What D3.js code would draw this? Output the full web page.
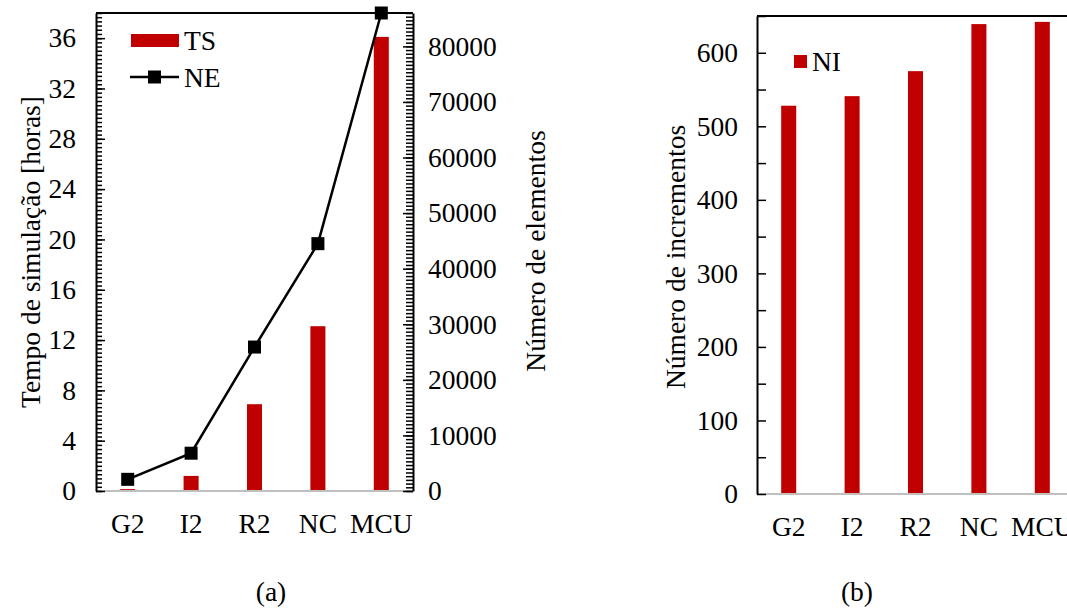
<!DOCTYPE html>
<html>
<head>
<meta charset="utf-8">
<script src="https://cdn.jsdelivr.net/npm/d3@7"></script>
<style>
  html, body { margin: 0; padding: 0; background: #fff; }
  svg { display: block; }
  text { font-family: "Liberation Serif", "Times New Roman", serif; fill: #000; }
</style>
</head>
<body>
<svg id="chart" width="1067" height="609"></svg>
<script>
// ---- data ----
const categories = ["G2", "I2", "R2", "NC", "MCU"];
const tsHours = [0.15, 1.2, 6.9, 13.1, 36.1];          // Tempo de simulação [horas]
const neElements = [2100, 6800, 25900, 44500, 86000];  // Número de elementos
const niIncrements = [528, 541, 575, 639, 642];        // Número de incrementos
const tsTicks = [0, 4, 8, 12, 16, 20, 24, 28, 32, 36];
const neTicks = [0, 10000, 20000, 30000, 40000, 50000, 60000, 70000, 80000];
const niTicks = [0, 100, 200, 300, 400, 500, 600];

const RED = "#c00000";
const FS = 27.5;
const svg = d3.select("#chart");

// ===================== chart (a) =====================
const A = { left: 96, right: 413, top: 13, bottom: 491 };
const xA = d3.scaleBand().domain(categories).range([A.left, A.right])
  .paddingInner(0.763).paddingOuter(0.3815);
const yTS = d3.scaleLinear().domain([0, 38]).range([A.bottom, A.top]);
const yNE = d3.scaleLinear().domain([0, 86000]).range([A.bottom, A.top]);

const gA = svg.append("g");

// bars
gA.selectAll("rect.ts").data(categories).join("rect")
  .attr("class", "ts")
  .attr("x", d => xA(d))
  .attr("width", xA.bandwidth())
  .attr("y", (d, i) => yTS(tsHours[i]))
  .attr("height", (d, i) => yTS(0) - yTS(tsHours[i]))
  .attr("fill", RED);

// baseline
gA.append("line").attr("x1", A.left).attr("x2", A.right)
  .attr("y1", A.bottom).attr("y2", A.bottom)
  .attr("stroke", "#bfbfbf").attr("stroke-width", 2);
// top frame
gA.append("line").attr("x1", A.left).attr("x2", A.right)
  .attr("y1", A.top).attr("y2", A.top)
  .attr("stroke", "#000").attr("stroke-width", 2);

// left minor ticks
const tsMinor = d3.range(0, 38.001, 4 / 12);
gA.append("g").attr("transform", `translate(${A.left},0)`)
  .call(d3.axisLeft(yTS).tickValues(tsMinor).tickSize(-6).tickFormat("").tickSizeOuter(0))
  .call(g => g.selectAll("line").attr("stroke", "#000").attr("stroke-width", 1.5))
  .call(g => g.select(".domain").remove());
// left major axis
gA.append("g").attr("transform", `translate(${A.left},0)`)
  .call(d3.axisLeft(yTS).tickValues(tsTicks).tickSize(-9).tickPadding(20).tickSizeOuter(0))
  .call(g => g.select(".domain").attr("stroke", "#000").attr("stroke-width", 2))
  .call(g => g.selectAll("line").attr("stroke", "#000").attr("stroke-width", 1.5))
  .call(g => g.selectAll("text").attr("font-size", FS).attr("font-family", "Liberation Serif"));

// right minor ticks
const neMinor = d3.range(0, 86000.1, 10000 / 15);
gA.append("g").attr("transform", `translate(${A.right},0)`)
  .call(d3.axisRight(yNE).tickValues(neMinor).tickSize(-7).tickFormat("").tickSizeOuter(0))
  .call(g => g.selectAll("line").attr("stroke", "#000").attr("stroke-width", 1.5))
  .call(g => g.select(".domain").remove());
// right major axis
gA.append("g").attr("transform", `translate(${A.right},0)`)
  .call(d3.axisRight(yNE).tickValues(neTicks).tickSize(-10).tickPadding(15)
    .tickFormat(d3.format("d")).tickSizeOuter(0))
  .call(g => g.select(".domain").attr("stroke", "#000").attr("stroke-width", 2))
  .call(g => g.selectAll("line").attr("stroke", "#000").attr("stroke-width", 1.5))
  .call(g => g.selectAll("text").attr("font-size", FS).attr("font-family", "Liberation Serif"));

// NE line + markers
const lineNE = d3.line()
  .x((d, i) => xA(categories[i]) + xA.bandwidth() / 2)
  .y(d => yNE(d));
gA.append("path").datum(neElements).attr("d", lineNE)
  .attr("fill", "none").attr("stroke", "#000").attr("stroke-width", 2.5);
gA.selectAll("rect.ne").data(neElements).join("rect")
  .attr("class", "ne")
  .attr("x", (d, i) => xA(categories[i]) + xA.bandwidth() / 2 - 6.5)
  .attr("y", d => yNE(d) - 6.5)
  .attr("width", 13).attr("height", 13).attr("fill", "#000");

// category labels
gA.selectAll("text.cat").data(categories).join("text")
  .attr("class", "cat")
  .attr("x", d => xA(d) + xA.bandwidth() / 2)
  .attr("y", 533)
  .attr("text-anchor", "middle").attr("font-size", FS)
  .text(d => d);

// axis titles
gA.append("text").attr("transform", "translate(30,252) rotate(-90)")
  .attr("text-anchor", "middle").attr("dominant-baseline", "central")
  .attr("font-size", FS).text("Tempo de simulação [horas]");
gA.append("text").attr("transform", "translate(535,251) rotate(-90)")
  .attr("text-anchor", "middle").attr("dominant-baseline", "central")
  .attr("font-size", FS).text("Número de elementos");

// legend
gA.append("rect").attr("x", 131).attr("y", 34).attr("width", 48).attr("height", 13).attr("fill", RED);
gA.append("text").attr("x", 184).attr("y", 40).attr("dominant-baseline", "central")
  .attr("font-size", FS).text("TS");
gA.append("line").attr("x1", 130).attr("x2", 179).attr("y1", 77).attr("y2", 77)
  .attr("stroke", "#000").attr("stroke-width", 2.5);
gA.append("rect").attr("x", 148).attr("y", 70.5).attr("width", 13).attr("height", 13).attr("fill", "#000");
gA.append("text").attr("x", 184).attr("y", 77).attr("dominant-baseline", "central")
  .attr("font-size", FS).text("NE");

gA.append("text").attr("x", 271).attr("y", 601).attr("text-anchor", "middle")
  .attr("font-size", FS).text("(a)");

// ===================== chart (b) =====================
const B = { left: 757, right: 1074, top: 16, bottom: 494 };
const xB = d3.scaleBand().domain(categories).range([B.left, B.right])
  .paddingInner(0.763).paddingOuter(0.3815);
const yNI = d3.scaleLinear().domain([0, 650]).range([B.bottom, B.top]);
const gB = svg.append("g");

gB.selectAll("rect.ni").data(categories).join("rect")
  .attr("class", "ni")
  .attr("x", d => xB(d))
  .attr("width", xB.bandwidth())
  .attr("y", (d, i) => yNI(niIncrements[i]))
  .attr("height", (d, i) => yNI(0) - yNI(niIncrements[i]))
  .attr("fill", RED);

gB.append("line").attr("x1", B.left).attr("x2", B.right)
  .attr("y1", B.bottom).attr("y2", B.bottom)
  .attr("stroke", "#bfbfbf").attr("stroke-width", 2);
gB.append("line").attr("x1", B.left).attr("x2", B.right)
  .attr("y1", B.top).attr("y2", B.top)
  .attr("stroke", "#000").attr("stroke-width", 2);

const niMinor = d3.range(0, 650.1, 50);
gB.append("g").attr("transform", `translate(${B.left},0)`)
  .call(d3.axisLeft(yNI).tickValues(niMinor).tickSize(-9).tickFormat("").tickSizeOuter(0))
  .call(g => g.selectAll("line").attr("stroke", "#000").attr("stroke-width", 1.5))
  .call(g => g.select(".domain").attr("stroke", "#000").attr("stroke-width", 2));
gB.append("g").attr("transform", `translate(${B.left},0)`)
  .call(d3.axisLeft(yNI).tickValues(niTicks).tickSize(0).tickPadding(19).tickSizeOuter(0))
  .call(g => g.select(".domain").remove())
  .call(g => g.selectAll("text").attr("font-size", FS).attr("font-family", "Liberation Serif"));

gB.selectAll("text.cat").data(categories).join("text")
  .attr("class", "cat")
  .attr("x", d => xB(d) + xB.bandwidth() / 2)
  .attr("y", 536)
  .attr("text-anchor", "middle").attr("font-size", FS)
  .text(d => d);

gB.append("text").attr("transform", "translate(675,257) rotate(-90)")
  .attr("text-anchor", "middle").attr("dominant-baseline", "central")
  .attr("font-size", FS).text("Número de incrementos");

gB.append("rect").attr("x", 794).attr("y", 55).attr("width", 13).attr("height", 13).attr("fill", RED);
gB.append("text").attr("x", 812).attr("y", 61).attr("dominant-baseline", "central")
  .attr("font-size", FS).text("NI");

gB.append("text").attr("x", 857).attr("y", 601).attr("text-anchor", "middle")
  .attr("font-size", FS).text("(b)");
</script>
</body>
</html>
